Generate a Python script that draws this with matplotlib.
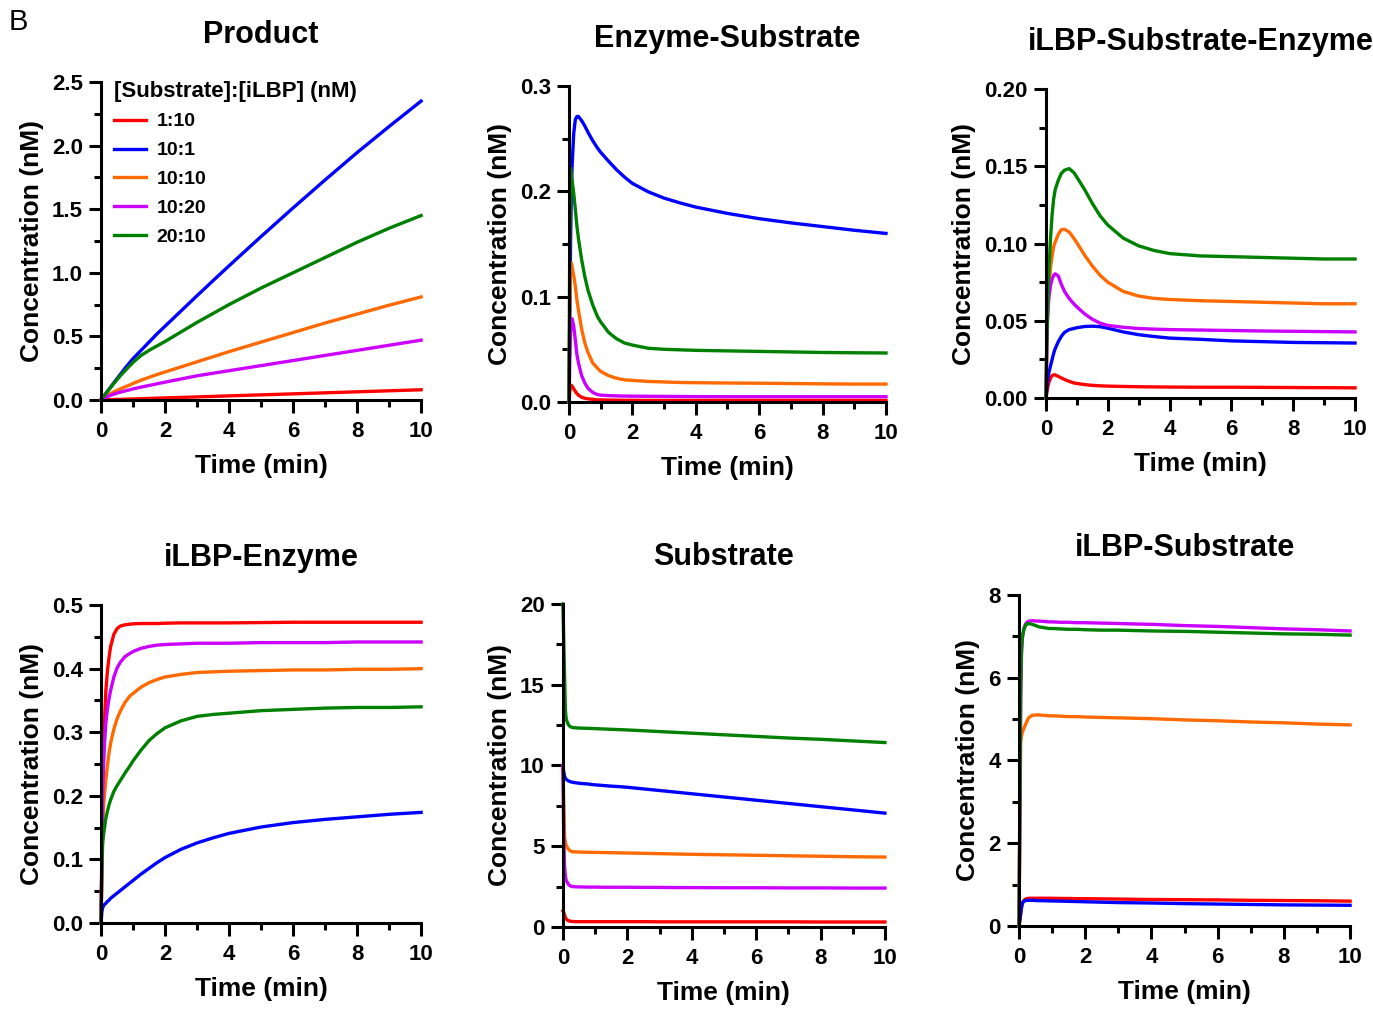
import matplotlib.pyplot as plt
from matplotlib.ticker import MultipleLocator, FormatStrFormatter

plt.rcParams['font.family'] = ['Liberation Sans', 'DejaVu Sans']
plt.rcParams['font.weight'] = 'bold'

# time points (min)
time = [0, 0.025, 0.05, 0.075, 0.1, 0.15, 0.2, 0.25, 0.3, 0.4, 0.5, 0.6, 0.75, 0.9, 1,
        1.25, 1.5, 1.75, 2, 2.5, 3, 3.5, 4, 5, 6, 7, 8, 9, 10]

ratios = ['1:10', '10:1', '10:10', '10:20', '20:10']
colors = ['#ff0000', '#0000ff', '#ff6a00', '#cc00ff', '#008000']

# concentrations (nM), one row per ratio in the order above
product = [
    [0, 0.0002, 0.0004, 0.0006, 0.0008, 0.0012, 0.0016, 0.002, 0.0024, 0.0032, 0.004, 0.0048, 0.006, 0.0072, 0.008,
     0.01, 0.012, 0.014, 0.016, 0.02, 0.024, 0.028, 0.032, 0.04, 0.048, 0.056, 0.064, 0.072, 0.08],
    [0, 0.0085, 0.017, 0.0255, 0.034, 0.051, 0.068, 0.085, 0.101, 0.135, 0.168, 0.2, 0.25, 0.295, 0.325,
     0.39, 0.455, 0.52, 0.58, 0.70, 0.82, 0.938, 1.055, 1.285, 1.51, 1.73, 1.945, 2.15, 2.35],
    [0, 0.005, 0.01, 0.015, 0.02, 0.028, 0.036, 0.043, 0.05, 0.063, 0.075, 0.087, 0.103, 0.118, 0.13,
     0.155, 0.178, 0.2, 0.22, 0.26, 0.30, 0.34, 0.38, 0.455, 0.53, 0.605, 0.675, 0.745, 0.81],
    [0, 0.004, 0.008, 0.012, 0.015, 0.021, 0.027, 0.032, 0.037, 0.046, 0.054, 0.061, 0.071, 0.08, 0.087,
     0.101, 0.114, 0.127, 0.14, 0.165, 0.19, 0.21, 0.23, 0.27, 0.31, 0.35, 0.39, 0.43, 0.47],
    [0, 0.0085, 0.017, 0.0255, 0.034, 0.05, 0.067, 0.083, 0.098, 0.13, 0.16, 0.19, 0.23, 0.27, 0.295,
     0.35, 0.39, 0.425, 0.46, 0.535, 0.61, 0.68, 0.75, 0.88, 1.00, 1.12, 1.24, 1.35, 1.45],
]
enzyme_substrate = [
    [0, 0.01, 0.015, 0.0158, 0.015, 0.0125, 0.010, 0.008, 0.0065, 0.0045, 0.0035, 0.003, 0.0025, 0.002, 0.002,
     0.0018, 0.0017, 0.0016, 0.0016, 0.0015, 0.0015, 0.0015, 0.0015, 0.0015, 0.0015, 0.0015, 0.0015, 0.0015, 0.0015],
    [0, 0.08, 0.15, 0.2, 0.225, 0.255, 0.268, 0.271, 0.271, 0.267, 0.262, 0.256, 0.248, 0.241, 0.237,
     0.2285, 0.2205, 0.2135, 0.2075, 0.1995, 0.1935, 0.189, 0.185, 0.179, 0.174, 0.170, 0.1665, 0.163, 0.160],
    [0, 0.09, 0.13, 0.132, 0.128, 0.12, 0.11, 0.097, 0.087, 0.069, 0.056, 0.047, 0.037, 0.032, 0.029,
     0.025, 0.0225, 0.021, 0.0205, 0.0195, 0.019, 0.0185, 0.0183, 0.018, 0.0178, 0.0175, 0.0172, 0.017, 0.017],
    [0, 0.04, 0.065, 0.076, 0.079, 0.072, 0.059, 0.045, 0.037, 0.025, 0.018, 0.013, 0.009, 0.007, 0.0065,
     0.006, 0.0058, 0.0056, 0.0055, 0.0054, 0.0053, 0.0052, 0.0051, 0.005, 0.005, 0.005, 0.005, 0.005, 0.005],
    [0, 0.15, 0.222, 0.215, 0.21, 0.198, 0.183, 0.167, 0.155, 0.135, 0.119, 0.106, 0.092, 0.081, 0.076,
     0.066, 0.060, 0.056, 0.054, 0.051, 0.050, 0.0495, 0.049, 0.0485, 0.048, 0.0475, 0.047, 0.0467, 0.0465],
]
ilbp_sub_enz = [
    [0, 0.003, 0.006, 0.0085, 0.0105, 0.013, 0.0145, 0.015, 0.015, 0.014, 0.013, 0.012, 0.0108, 0.0098, 0.0094,
     0.0087, 0.0082, 0.0079, 0.0077, 0.0075, 0.0073, 0.0072, 0.0071, 0.007, 0.007, 0.0069, 0.0068, 0.0067, 0.0066],
    [0, 0.006, 0.011, 0.014, 0.017, 0.021, 0.025, 0.029, 0.032, 0.0365, 0.040, 0.0425, 0.0443, 0.045, 0.0455,
     0.0463, 0.0465, 0.0462, 0.0452, 0.0428, 0.041, 0.0398, 0.0388, 0.038, 0.037, 0.0365, 0.036, 0.0358, 0.0356],
    [0, 0.032, 0.052, 0.065, 0.073, 0.085, 0.092, 0.098, 0.101, 0.106, 0.109, 0.1092, 0.1075, 0.1035, 0.1005,
     0.0925, 0.0855, 0.0795, 0.075, 0.069, 0.066, 0.0645, 0.0638, 0.063, 0.0625, 0.062, 0.0615, 0.061, 0.061],
    [0, 0.032, 0.05, 0.06, 0.066, 0.073, 0.077, 0.0795, 0.0804, 0.079, 0.0735, 0.069, 0.0645, 0.061, 0.059,
     0.0545, 0.051, 0.0485, 0.047, 0.0458, 0.045, 0.0446, 0.0443, 0.044, 0.0437, 0.0434, 0.0432, 0.043, 0.0428],
    [0, 0.032, 0.055, 0.072, 0.084, 0.104, 0.119, 0.129, 0.135, 0.141, 0.1455, 0.1475, 0.1485, 0.146, 0.143,
     0.135, 0.126, 0.118, 0.112, 0.1035, 0.0985, 0.0955, 0.0935, 0.092, 0.0915, 0.091, 0.0905, 0.090, 0.090],
]
ilbp_enzyme = [
    [0, 0.1, 0.19, 0.26, 0.31, 0.365, 0.397, 0.418, 0.435, 0.454, 0.463, 0.467, 0.469, 0.470, 0.4705,
     0.471, 0.471, 0.471, 0.4715, 0.472, 0.472, 0.472, 0.472, 0.4725, 0.473, 0.473, 0.473, 0.473, 0.473],
    [0, 0.018, 0.024, 0.027, 0.029, 0.031, 0.034, 0.036, 0.039, 0.043, 0.047, 0.051, 0.057, 0.063, 0.067,
     0.077, 0.086, 0.095, 0.103, 0.116, 0.126, 0.134, 0.141, 0.151, 0.158, 0.163, 0.167, 0.171, 0.174],
    [0, 0.09, 0.155, 0.18, 0.198, 0.225, 0.248, 0.268, 0.283, 0.305, 0.321, 0.333, 0.347, 0.357, 0.361,
     0.371, 0.378, 0.383, 0.387, 0.391, 0.394, 0.395, 0.396, 0.397, 0.398, 0.398, 0.399, 0.399, 0.400],
    [0, 0.11, 0.20, 0.245, 0.275, 0.315, 0.337, 0.353, 0.366, 0.387, 0.401, 0.41, 0.419, 0.424, 0.427,
     0.432, 0.435, 0.437, 0.438, 0.439, 0.44, 0.44, 0.44, 0.441, 0.441, 0.441, 0.442, 0.442, 0.442],
    [0, 0.085, 0.125, 0.138, 0.147, 0.165, 0.176, 0.186, 0.194, 0.207, 0.216, 0.224, 0.236, 0.247, 0.255,
     0.272, 0.287, 0.298, 0.307, 0.318, 0.325, 0.328, 0.330, 0.334, 0.336, 0.338, 0.339, 0.339, 0.340],
]
substrate = [
    [1.0, 0.9, 0.75, 0.6, 0.5, 0.41, 0.37, 0.35, 0.34, 0.33, 0.33, 0.33, 0.33, 0.33, 0.33,
     0.33, 0.33, 0.33, 0.33, 0.33, 0.32, 0.32, 0.32, 0.32, 0.32, 0.32, 0.31, 0.31, 0.31],
    [10, 9.6, 9.35, 9.2, 9.15, 9.07, 9.02, 8.98, 8.96, 8.93, 8.9, 8.88, 8.86, 8.82, 8.8,
     8.76, 8.72, 8.69, 8.65, 8.55, 8.45, 8.35, 8.25, 8.05, 7.85, 7.65, 7.45, 7.25, 7.05],
    [10, 7.8, 5.6, 5.25, 5.05, 4.87, 4.76, 4.69, 4.65, 4.65, 4.64, 4.63, 4.63, 4.62, 4.62,
     4.61, 4.6, 4.59, 4.58, 4.56, 4.54, 4.52, 4.5, 4.47, 4.44, 4.41, 4.38, 4.35, 4.33],
    [10, 5.5, 3.8, 3.15, 2.9, 2.7, 2.58, 2.53, 2.5, 2.49, 2.48, 2.48, 2.47, 2.47, 2.47,
     2.46, 2.46, 2.46, 2.46, 2.45, 2.45, 2.44, 2.44, 2.43, 2.43, 2.42, 2.42, 2.41, 2.41],
    [20, 17.8, 15.6, 13.5, 12.9, 12.6, 12.45, 12.38, 12.35, 12.33, 12.32, 12.31, 12.3, 12.29, 12.28,
     12.26, 12.24, 12.22, 12.2, 12.15, 12.1, 12.05, 12.0, 11.9, 11.8, 11.7, 11.62, 11.52, 11.42],
]
ilbp_substrate = [
    [0, 0.15, 0.3, 0.45, 0.56, 0.62, 0.65, 0.665, 0.67, 0.67, 0.67, 0.67, 0.67, 0.67, 0.67,
     0.665, 0.665, 0.66, 0.66, 0.655, 0.65, 0.645, 0.64, 0.635, 0.63, 0.62, 0.615, 0.61, 0.60],
    [0, 0.15, 0.3, 0.45, 0.55, 0.6, 0.615, 0.62, 0.62, 0.62, 0.615, 0.612, 0.61, 0.606, 0.605,
     0.60, 0.595, 0.59, 0.585, 0.575, 0.565, 0.56, 0.555, 0.54, 0.53, 0.52, 0.51, 0.505, 0.50],
    [0, 2.8, 4.45, 4.6, 4.68, 4.78, 4.88, 4.97, 5.04, 5.09, 5.1, 5.1, 5.09, 5.08, 5.08,
     5.07, 5.06, 5.06, 5.05, 5.04, 5.03, 5.02, 5.01, 4.98, 4.96, 4.93, 4.91, 4.88, 4.86],
    [0, 2.8, 5.5, 6.6, 6.95, 7.2, 7.3, 7.35, 7.37, 7.38, 7.37, 7.37, 7.36, 7.35, 7.35,
     7.34, 7.34, 7.33, 7.33, 7.32, 7.31, 7.30, 7.29, 7.26, 7.24, 7.21, 7.18, 7.16, 7.13],
    [0, 3.0, 5.8, 6.7, 7.0, 7.18, 7.27, 7.30, 7.31, 7.29, 7.26, 7.23, 7.21, 7.19, 7.19,
     7.18, 7.17, 7.17, 7.16, 7.15, 7.15, 7.14, 7.13, 7.12, 7.10, 7.08, 7.06, 7.05, 7.03],
]

# (axes rect, title, data, ymax, major step, minor step, tick format)
panels = [
    ([0.0736, 0.6044, 0.2331, 0.3145], 'Product', product, 2.5, 0.5, 0.25, '%.1f'),
    ([0.4144, 0.6024, 0.2309, 0.3126], 'Enzyme-Substrate', enzyme_substrate, 0.3, 0.1, 0.05, '%.1f'),
    ([0.7618, 0.6063, 0.2251, 0.3056], 'iLBP-Substrate-Enzyme', ilbp_sub_enz, 0.2, 0.05, 0.025, '%.2f'),
    ([0.0736, 0.0870, 0.2331, 0.3145], 'iLBP-Enzyme', ilbp_enzyme, 0.5, 0.1, 0.05, '%.1f'),
    ([0.4100, 0.0831, 0.2345, 0.3195], 'Substrate', substrate, 20, 5, 2.5, '%d'),
    ([0.7422, 0.0841, 0.2411, 0.3274], 'iLBP-Substrate', ilbp_substrate, 8, 2, 1, '%d'),
]

fig = plt.figure(figsize=(13.73, 10.11), dpi=100)

for i, (rect, title, data, ymax, major, minor, fmt) in enumerate(panels):
    ax = fig.add_axes(rect)
    for series, c, lab in zip(data, colors, ratios):
        ax.plot(time, series, color=c, lw=2.4, label=lab, clip_on=False)
    ax.set_xlim(0, 10)
    ax.set_ylim(0, ymax)
    ax.xaxis.set_major_locator(MultipleLocator(2))
    ax.xaxis.set_minor_locator(MultipleLocator(1))
    ax.yaxis.set_major_locator(MultipleLocator(major))
    ax.yaxis.set_minor_locator(MultipleLocator(minor))
    ax.yaxis.set_major_formatter(FormatStrFormatter(fmt))
    for s in ['top', 'right']:
        ax.spines[s].set_visible(False)
    for s in ['left', 'bottom']:
        ax.spines[s].set_linewidth(2.2)
    ax.tick_params(which='major', length=9, width=2.2, labelsize=16)
    ax.tick_params(which='minor', length=5, width=2.2)
    ax.tick_params(axis='x', which='major', pad=6)
    ax.tick_params(axis='y', which='major', pad=4)
    ax.set_title(title, fontsize=22, fontweight='bold', pad=28)
    ax.set_xlabel('Time (min)', fontsize=19, fontweight='bold', labelpad=9)
    ax.set_ylabel('Concentration (nM)', fontsize=19, fontweight='bold', labelpad=6)
    if i == 0:
        ax.legend(loc='upper left', bbox_to_anchor=(0.01, 1.035), frameon=False,
                  title='[Substrate]:[iLBP] (nM)', fontsize=14,
                  title_fontproperties={'size': 16, 'weight': 'bold'},
                  handlelength=1.65, handletextpad=0.55, labelspacing=0.58,
                  borderpad=0, alignment='left')

fig.text(0.006, 0.978, 'B', fontsize=21, fontweight='normal', va='center')

plt.savefig('out.png', dpi=100)
